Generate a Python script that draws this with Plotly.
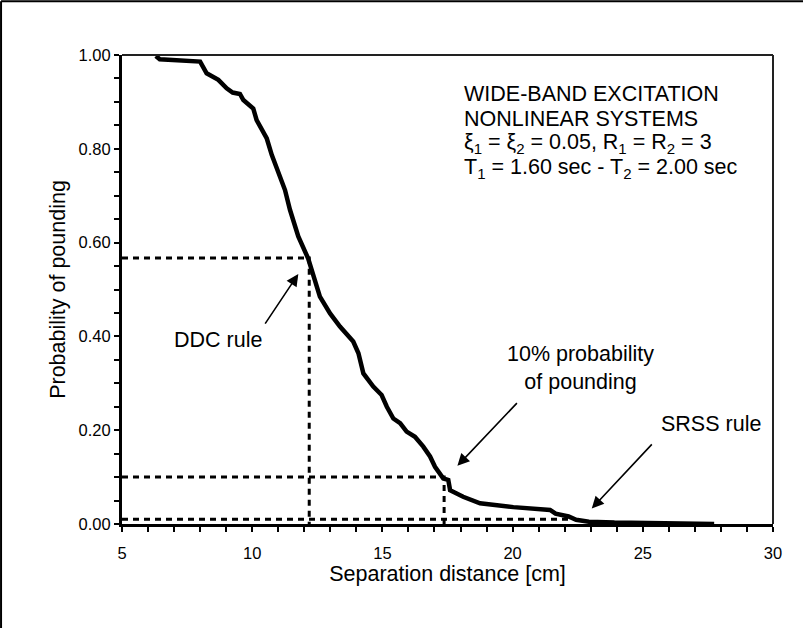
import plotly.graph_objects as go

# Curve: probability of pounding vs separation distance
sep_cm = [6.30, 6.45, 8.00, 8.25, 8.70, 9.02, 9.25, 9.53, 9.66, 10.04, 10.17, 10.56,
          10.75, 11.00, 11.26, 11.45, 11.58, 11.77, 12.15, 12.41, 12.60, 12.99, 13.37,
          13.88, 14.08, 14.27, 14.65, 14.97, 15.17, 15.42, 15.68, 15.93, 16.25, 16.57,
          16.83, 17.02, 17.34, 17.53, 17.60, 18.10, 18.75, 20.03, 21.44, 21.65, 22.15,
          22.44, 22.93, 23.91, 25.88, 27.74]
prob = [0.998, 0.991, 0.986, 0.961, 0.947, 0.929, 0.920, 0.917, 0.904, 0.886, 0.861, 0.822,
        0.787, 0.751, 0.712, 0.670, 0.648, 0.613, 0.566, 0.520, 0.485, 0.449, 0.421,
        0.389, 0.364, 0.321, 0.293, 0.275, 0.250, 0.225, 0.215, 0.197, 0.186, 0.165,
        0.144, 0.122, 0.097, 0.094, 0.072, 0.058, 0.044, 0.036, 0.030, 0.022, 0.016,
        0.009, 0.005, 0.003, 0.001, 0.000]

# Reference lines (rule results)
x_min = 5
ddc_x, ddc_p = 12.19, 0.567
p10_x, p10_p = 17.37, 0.10
srss_end_x, srss_p = 22.35, 0.01

x_ticks = [5, 10, 15, 20, 25, 30]
y_ticks = [0.0, 0.2, 0.4, 0.6, 0.8, 1.0]

info_lines = ["WIDE-BAND EXCITATION", "NONLINEAR SYSTEMS",
              "ξ<sub>1</sub> = ξ<sub>2</sub> = 0.05, R<sub>1</sub> = R<sub>2</sub> = 3",
              "T<sub>1</sub> = 1.60 sec - T<sub>2</sub> = 2.00 sec"]
info_y = [0.917, 0.864, 0.812, 0.759]

FONT = "Arial, 'Liberation Sans', sans-serif"
TXT = dict(family=FONT, size=21.5, color="black")
dash_style = dict(color="black", width=3, dash="6px,5px")

fig = go.Figure()

# dashed guide lines
fig.add_trace(go.Scatter(x=[x_min, ddc_x, ddc_x], y=[ddc_p, ddc_p, 0], mode="lines",
                         line=dash_style, hoverinfo="skip", showlegend=False))
fig.add_trace(go.Scatter(x=[x_min, p10_x, p10_x], y=[p10_p, p10_p, 0], mode="lines",
                         line=dash_style, hoverinfo="skip", showlegend=False))
fig.add_trace(go.Scatter(x=[x_min, srss_end_x], y=[srss_p, srss_p], mode="lines",
                         line=dash_style, hoverinfo="skip", showlegend=False))

# main curve
fig.add_trace(go.Scatter(x=sep_cm, y=prob, mode="lines",
                         line=dict(color="black", width=4.5), showlegend=False))

ann = []
# info block (one annotation per line for tight spacing)
for txt, yy in zip(info_lines, info_y):
    ann.append(dict(x=18.05, y=yy, xref="x", yref="y", xanchor="left", yanchor="middle",
                    align="left", showarrow=False, text=txt, font=TXT))
# labels
ann.append(dict(x=8.69, y=0.393, xref="x", yref="y", showarrow=False, text="DDC rule",
                font=TXT))
ann.append(dict(x=22.6, y=0.332, xref="x", yref="y", showarrow=False,
                text="10% probability<br>of pounding", font=TXT))
ann.append(dict(x=27.62, y=0.214, xref="x", yref="y", showarrow=False, text="SRSS rule",
                font=TXT))
# arrows
for (hx, hy, tx, ty) in [(11.77, 0.533, 10.46, 0.424),
                         (17.88, 0.124, 20.22, 0.261),
                         (23.04, 0.033, 25.40, 0.173)]:
    ann.append(dict(x=hx, y=hy, ax=tx, ay=ty, xref="x", yref="y", axref="x", ayref="y",
                    text="", showarrow=True, arrowhead=2, arrowsize=1.5, arrowwidth=1.6,
                    arrowcolor="black"))

shapes = [
    # top and right (thin) plot frame
    dict(type="line", xref="paper", yref="paper", x0=0, x1=1, y0=1, y1=1,
         line=dict(color="#222", width=2)),
    dict(type="line", xref="paper", yref="paper", x0=1, x1=1, y0=0, y1=1,
         line=dict(color="#222", width=2)),
    # outer chart border
    dict(type="line", xref="paper", yref="paper", x0=-0.1858, x1=-0.1858, y0=-0.25, y1=1.1146,
         line=dict(color="black", width=2)),
    dict(type="line", xref="paper", yref="paper", x0=-0.1858, x1=1.3495, y0=1.1146, y1=1.1146,
         line=dict(color="black", width=2)),
    dict(type="line", xref="paper", yref="paper", x0=1.3495, x1=1.3495, y0=-0.25, y1=1.1146,
         line=dict(color="black", width=2)),
]

fig.update_layout(
    width=803, height=628,
    margin=dict(l=122, r=30, t=55, b=104),
    paper_bgcolor="white", plot_bgcolor="white",
    font=dict(family=FONT, color="black"),
    annotations=ann, shapes=shapes,
    xaxis=dict(range=[5, 30], tickvals=x_ticks, ticktext=[str(v) for v in x_ticks],
               showgrid=False, zeroline=False, showline=True, linecolor="black", linewidth=3,
               ticks="outside", ticklen=5, tickwidth=2, tickcolor="black",
               ticklabelstandoff=7,
               tickfont=dict(size=16.5, family=FONT, color="black"),
               minor=dict(dtick=1, ticks="outside", ticklen=5, tickwidth=2, tickcolor="black",
                          showgrid=False),
               title=dict(text="Separation distance [cm]", standoff=6,
                          font=dict(size=21.5, family=FONT, color="black"))),
    yaxis=dict(range=[0, 1], tickvals=y_ticks, ticktext=[f"{v:.2f}" for v in y_ticks],
               showgrid=False, zeroline=False, showline=True, linecolor="black", linewidth=3,
               ticks="outside", ticklen=5, tickwidth=2, tickcolor="black",
               tickfont=dict(size=16.5, family=FONT, color="black"),
               minor=dict(dtick=0.05, ticks="outside", ticklen=5, tickwidth=2, tickcolor="black",
                          showgrid=False),
               title=dict(text="Probability of pounding", standoff=8,
                          font=dict(size=21.5, family=FONT, color="black"))),
)

fig.write_html("out.html", config={"displayModeBar": False},
               post_script="document.body.style.margin='0px';"
                           "document.documentElement.style.overflow='hidden';")
